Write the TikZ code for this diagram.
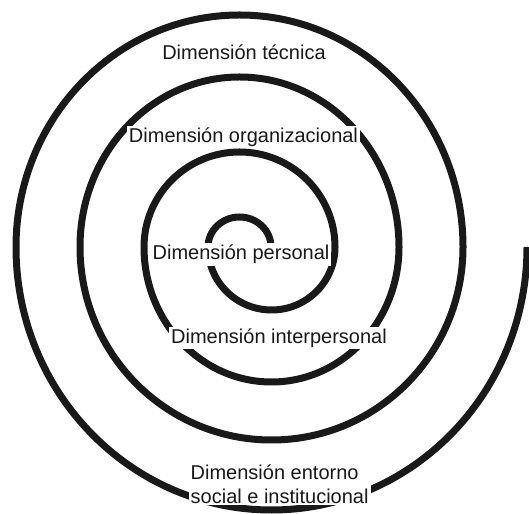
\documentclass[tikz,border=0pt]{standalone}
\usepackage{fontspec}
\setmainfont{Liberation Sans}
\usepackage{tikz}
\usetikzlibrary{positioning}

\begin{document}
\begin{tikzpicture}[
  x=1pt, y=1pt,
  spiral/.style={draw=black!90, line width=7pt},
  dimtext/.style={fill=white, inner sep=2pt, text=black!90,
                  font=\fontsize{20}{23.6}\selectfont}
]
  \useasboundingbox (0,0) rectangle (529,513);

  % Spiral from the centre outwards
  \draw[spiral] (271,266)
    arc[start angle=0,   end angle=180, x radius=31.5,  y radius=30]
    arc[start angle=180, end angle=360, x radius=63.5,  y radius=63]
    arc[start angle=0,   end angle=180, x radius=95.5,  y radius=95]
    arc[start angle=180, end angle=360, x radius=127.5, y radius=135]
    arc[start angle=0,   end angle=180, x radius=159.5, y radius=170]
    arc[start angle=180, end angle=360, x radius=191.5, y radius=193]
    arc[start angle=0,   end angle=180, x radius=223.5, y radius=232]
    arc[start angle=180, end angle=360, x radius=255.5, y radius=263];

  \node[dimtext, anchor=base] (tec) at (244,453) {Dimensión técnica};
  \node[dimtext, anchor=base] (org) at (243.5,370.7) {Dimensión organizacional};
  \node[dimtext, anchor=base] (per) at (241,253.3) {Dimensión personal};
  \node[dimtext, anchor=base] (inter) at (279,169.7) {Dimensión interpersonal};
  \node[dimtext, anchor=base west, align=left] (ent) at (188.5,9.8)
    {Dimensión entorno\\social e institucional};

\end{tikzpicture}
\end{document}
